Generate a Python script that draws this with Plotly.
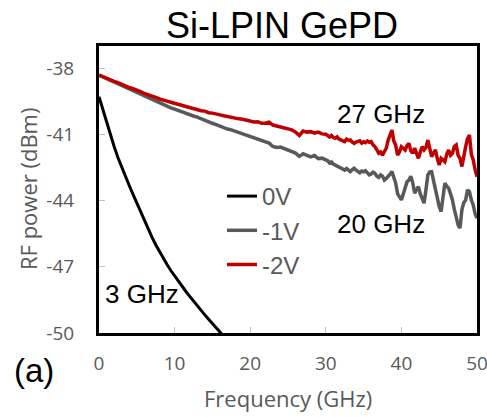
import plotly.graph_objects as go

# ---------------- data ----------------
freq_0v = [0, 0.5, 1, 1.5, 2, 2.5, 3, 3.5, 4, 4.5, 5, 5.5, 6, 6.5, 7, 7.5, 8, 8.5,
           9, 9.5, 10, 10.5, 11, 11.5, 12, 12.5, 13, 13.5, 14, 14.5, 15, 15.5,
           16, 16.5, 17]
power_0v = [-39.30, -39.88, -40.45, -41.02, -41.55, -42.05, -42.50, -42.92, -43.32,
            -43.72, -44.12, -44.52, -44.92, -45.30, -45.66, -46.00, -46.32, -46.62,
            -46.90, -47.17, -47.42, -47.66, -47.89, -48.12, -48.34, -48.56, -48.77,
            -48.98, -49.18, -49.38, -49.58, -49.77, -49.96, -50.15, -50.34]

freq_low = [0, 0.5, 1, 1.5, 2, 2.5, 3, 3.5, 4, 4.5, 5, 5.5, 6, 6.5, 7, 7.5, 8, 8.5,
            9, 9.5, 10, 10.5, 11, 11.5, 12, 12.5, 13, 13.5, 14, 14.5, 15, 15.5, 16,
            16.5, 17, 17.5, 18, 18.5, 19, 19.5, 20, 20.5, 21, 21.5, 22, 22.5, 23,
            23.5, 24, 24.5, 25, 25.5, 26, 26.5, 27, 27.5, 28, 28.5, 29, 29.5, 30]
freq_high = [30.25, 30.5, 30.75, 31, 31.25, 31.5, 31.75, 32, 32.25, 32.5, 32.75, 33,
             33.25, 33.5, 33.75, 34, 34.25, 34.5, 34.75, 35, 35.25, 35.5, 35.75, 36,
             36.25, 36.5, 36.75, 37, 37.25, 37.5, 37.75, 38, 38.25, 38.5, 38.75, 39,
             39.25, 39.5, 39.75, 40, 40.25, 40.5, 40.75, 41, 41.25, 41.5, 41.75, 42,
             42.25, 42.5, 42.75, 43, 43.25, 43.5, 43.75, 44, 44.25, 44.5, 44.75, 45,
             45.25, 45.5, 45.75, 46, 46.25, 46.5, 46.75, 47, 47.25, 47.5, 47.75, 48,
             48.25, 48.5, 48.75, 49, 49.25, 49.5, 49.75, 50]

power_m1v_low = [-38.32, -38.40, -38.46, -38.53, -38.61, -38.68, -38.76, -38.85, -38.93,
                 -39.02, -39.10, -39.18, -39.26, -39.34, -39.42, -39.50, -39.58, -39.66,
                 -39.72, -39.80, -39.86, -39.93, -39.98, -40.05, -40.10, -40.17, -40.22,
                 -40.30, -40.35, -40.42, -40.50, -40.56, -40.64, -40.70, -40.76, -40.80,
                 -40.86, -40.92, -40.96, -41.02, -41.08, -41.15, -41.20, -41.28, -41.35,
                 -41.40, -41.55, -41.60, -41.58, -41.65, -41.70, -41.78, -41.85, -42.00,
                 -41.88, -41.95, -42.02, -41.96, -42.10, -42.08, -42.18]
power_m1v_high = [-42.20, -42.30, -42.25, -42.35, -42.40, -42.45, -42.50, -42.54, -42.60,
                  -42.62, -42.55, -42.65, -42.69, -42.60, -42.54, -42.62, -42.70, -42.74,
                  -42.66, -42.70, -42.65, -42.75, -42.84, -42.80, -42.72, -42.77, -42.90,
                  -42.95, -42.84, -42.90, -43.07, -43.00, -42.92, -42.80, -42.69, -43.00,
                  -43.22, -43.70, -43.82, -43.97, -43.70, -43.37, -43.15, -43.07, -42.90,
                  -43.20, -43.67, -43.50, -43.37, -43.70, -43.97, -44.12, -43.50, -42.84,
                  -42.70, -42.69, -43.10, -43.52, -44.00, -44.27, -44.50, -43.90, -43.22,
                  -43.35, -43.44, -43.70, -43.97, -44.40, -44.73, -45.10, -45.25, -44.42,
                  -44.10, -43.97, -43.52, -43.60, -43.97, -44.20, -44.60, -44.80]

power_m2v_low = [-38.32, -38.40, -38.45, -38.52, -38.60, -38.66, -38.74, -38.80, -38.88,
                 -38.93, -39.02, -39.07, -39.15, -39.20, -39.27, -39.33, -39.40, -39.43,
                 -39.50, -39.55, -39.60, -39.62, -39.70, -39.73, -39.78, -39.84, -39.86,
                 -39.93, -39.95, -40.02, -40.04, -40.10, -40.12, -40.16, -40.20, -40.21,
                 -40.27, -40.30, -40.32, -40.37, -40.38, -40.44, -40.43, -40.50, -40.50,
                 -40.45, -40.58, -40.62, -40.65, -40.70, -40.72, -40.80, -40.90, -41.05,
                 -40.85, -40.90, -40.88, -40.95, -40.90, -40.98, -41.00]
power_m2v_high = [-41.08, -41.12, -41.05, -41.15, -41.18, -41.12, -41.22, -41.24, -41.30,
                  -41.33, -41.22, -41.28, -41.26, -41.36, -41.41, -41.35, -41.30, -41.29,
                  -41.40, -41.34, -41.38, -41.30, -41.36, -41.33, -41.48, -41.56, -41.70,
                  -41.86, -41.80, -41.94, -41.78, -41.62, -41.26, -41.05, -40.81, -41.30,
                  -41.50, -41.94, -41.80, -41.56, -41.66, -41.71, -41.50, -41.41, -41.75,
                  -41.86, -41.63, -41.85, -42.09, -41.80, -41.56, -41.71, -41.60, -41.26,
                  -41.70, -42.01, -41.85, -41.71, -42.10, -42.39, -42.09, -42.15, -42.24,
                  -41.90, -41.71, -41.95, -41.86, -41.55, -41.48, -41.95, -42.09, -42.46,
                  -41.90, -41.56, -41.20, -41.03, -41.90, -42.16, -42.60, -42.92]

series_names = ["0V", "-1V", "-2V"]
series_colors = ["#000000", "#595959", "#C00000"]
y_ticks = [-38, -41, -44, -47, -50]
y_tick_text = ["-38", "-41", "-44", "-47", "-50"]
x_ticks = [0, 10, 20, 30, 40, 50]
bandwidth_labels = ["27 GHz", "20 GHz", "3 GHz"]

# ---------------- figure ----------------
W, H = 487, 417
PLOT_L, PLOT_R, PLOT_T, PLOT_B = 99, 477, 46, 333   # plot area in window pixels
L, R, T, B = PLOT_L, W - PLOT_R, PLOT_T, H - PLOT_B
pw, ph = PLOT_R - PLOT_L, PLOT_B - PLOT_T


def px_x(p):
    return (p - PLOT_L) / pw


def px_y(p):
    return (PLOT_B - p) / ph


fig = go.Figure()
fig.add_trace(go.Scatter(x=freq_0v, y=power_0v, mode="lines", name=series_names[0],
                         line=dict(color=series_colors[0], width=3),
                         legendgroup="a"))
fig.add_trace(go.Scatter(x=freq_low + freq_high, y=power_m1v_low + power_m1v_high,
                         mode="lines", name=series_names[1],
                         line=dict(color=series_colors[1], width=3.5),
                         legendgroup="b"))
fig.add_trace(go.Scatter(x=freq_low + freq_high, y=power_m2v_low + power_m2v_high,
                         mode="lines", name=series_names[2],
                         line=dict(color=series_colors[2], width=3.5),
                         legendgroup="c"))

tick_font = dict(family="Open Sans", size=19, color="#595959")
title_font = dict(family="Open Sans", size=22, color="#595959")
ann_font = dict(family="Liberation Sans", size=26, color="#000000")

fig.update_layout(
    width=W, height=H,
    margin=dict(l=L, r=R, t=T, b=B, autoexpand=False),
    paper_bgcolor="white", plot_bgcolor="white",
    showlegend=True,
    legend=dict(x=px_x(222), y=px_y(174), xanchor="left", yanchor="top",
                bgcolor="rgba(0,0,0,0)", borderwidth=0,
                font=dict(family="Liberation Sans", size=24, color="#595959"),
                traceorder="grouped", tracegroupgap=0, itemwidth=30),
    xaxis=dict(range=[0, 50], tickvals=x_ticks, ticks="inside", ticklen=6,
               tickcolor="#bfbfbf", tickwidth=1, showgrid=False, zeroline=False,
               showline=True, linecolor="black", linewidth=3, mirror=True,
               tickfont=tick_font, ticklabelstandoff=11,
               ticklabeloverflow="allow"),
    yaxis=dict(range=[-50, -37], tickvals=y_ticks, ticktext=y_tick_text,
               ticks="inside", ticklen=6,
               tickcolor="#bfbfbf", tickwidth=1, showgrid=False, zeroline=False,
               showline=True, linecolor="black", linewidth=3, mirror=True,
               tickfont=tick_font, ticklabelstandoff=18,
               ticklabeloverflow="allow"),
)

annotations = [
    dict(text="Si-LPIN GePD", x=px_x(282), y=px_y(26),
         font=dict(family="Liberation Sans", size=36, color="#000000")),
    dict(text="Frequency (GHz)", x=px_x(288), y=px_y(398), font=title_font),
    dict(text="RF power (dBm)", x=px_x(28), y=px_y(189), textangle=-90, font=title_font),
    dict(text="(a)", x=px_x(34), y=px_y(370),
         font=dict(family="Liberation Sans", size=33, color="#000000")),
    dict(text=bandwidth_labels[0], x=px_x(381), y=px_y(114), font=ann_font),
    dict(text=bandwidth_labels[1], x=px_x(381), y=px_y(224), font=ann_font),
    dict(text=bandwidth_labels[2], x=px_x(142), y=px_y(294), font=ann_font),
]
for a in annotations:
    fig.add_annotation(xref="paper", yref="paper", showarrow=False,
                       xanchor="center", yanchor="middle", **a)

fig.write_html(
    "out.html",
    config={"displayModeBar": False, "responsive": False},
    post_script="document.body.style.margin='0';document.body.style.overflow='hidden';",
)
